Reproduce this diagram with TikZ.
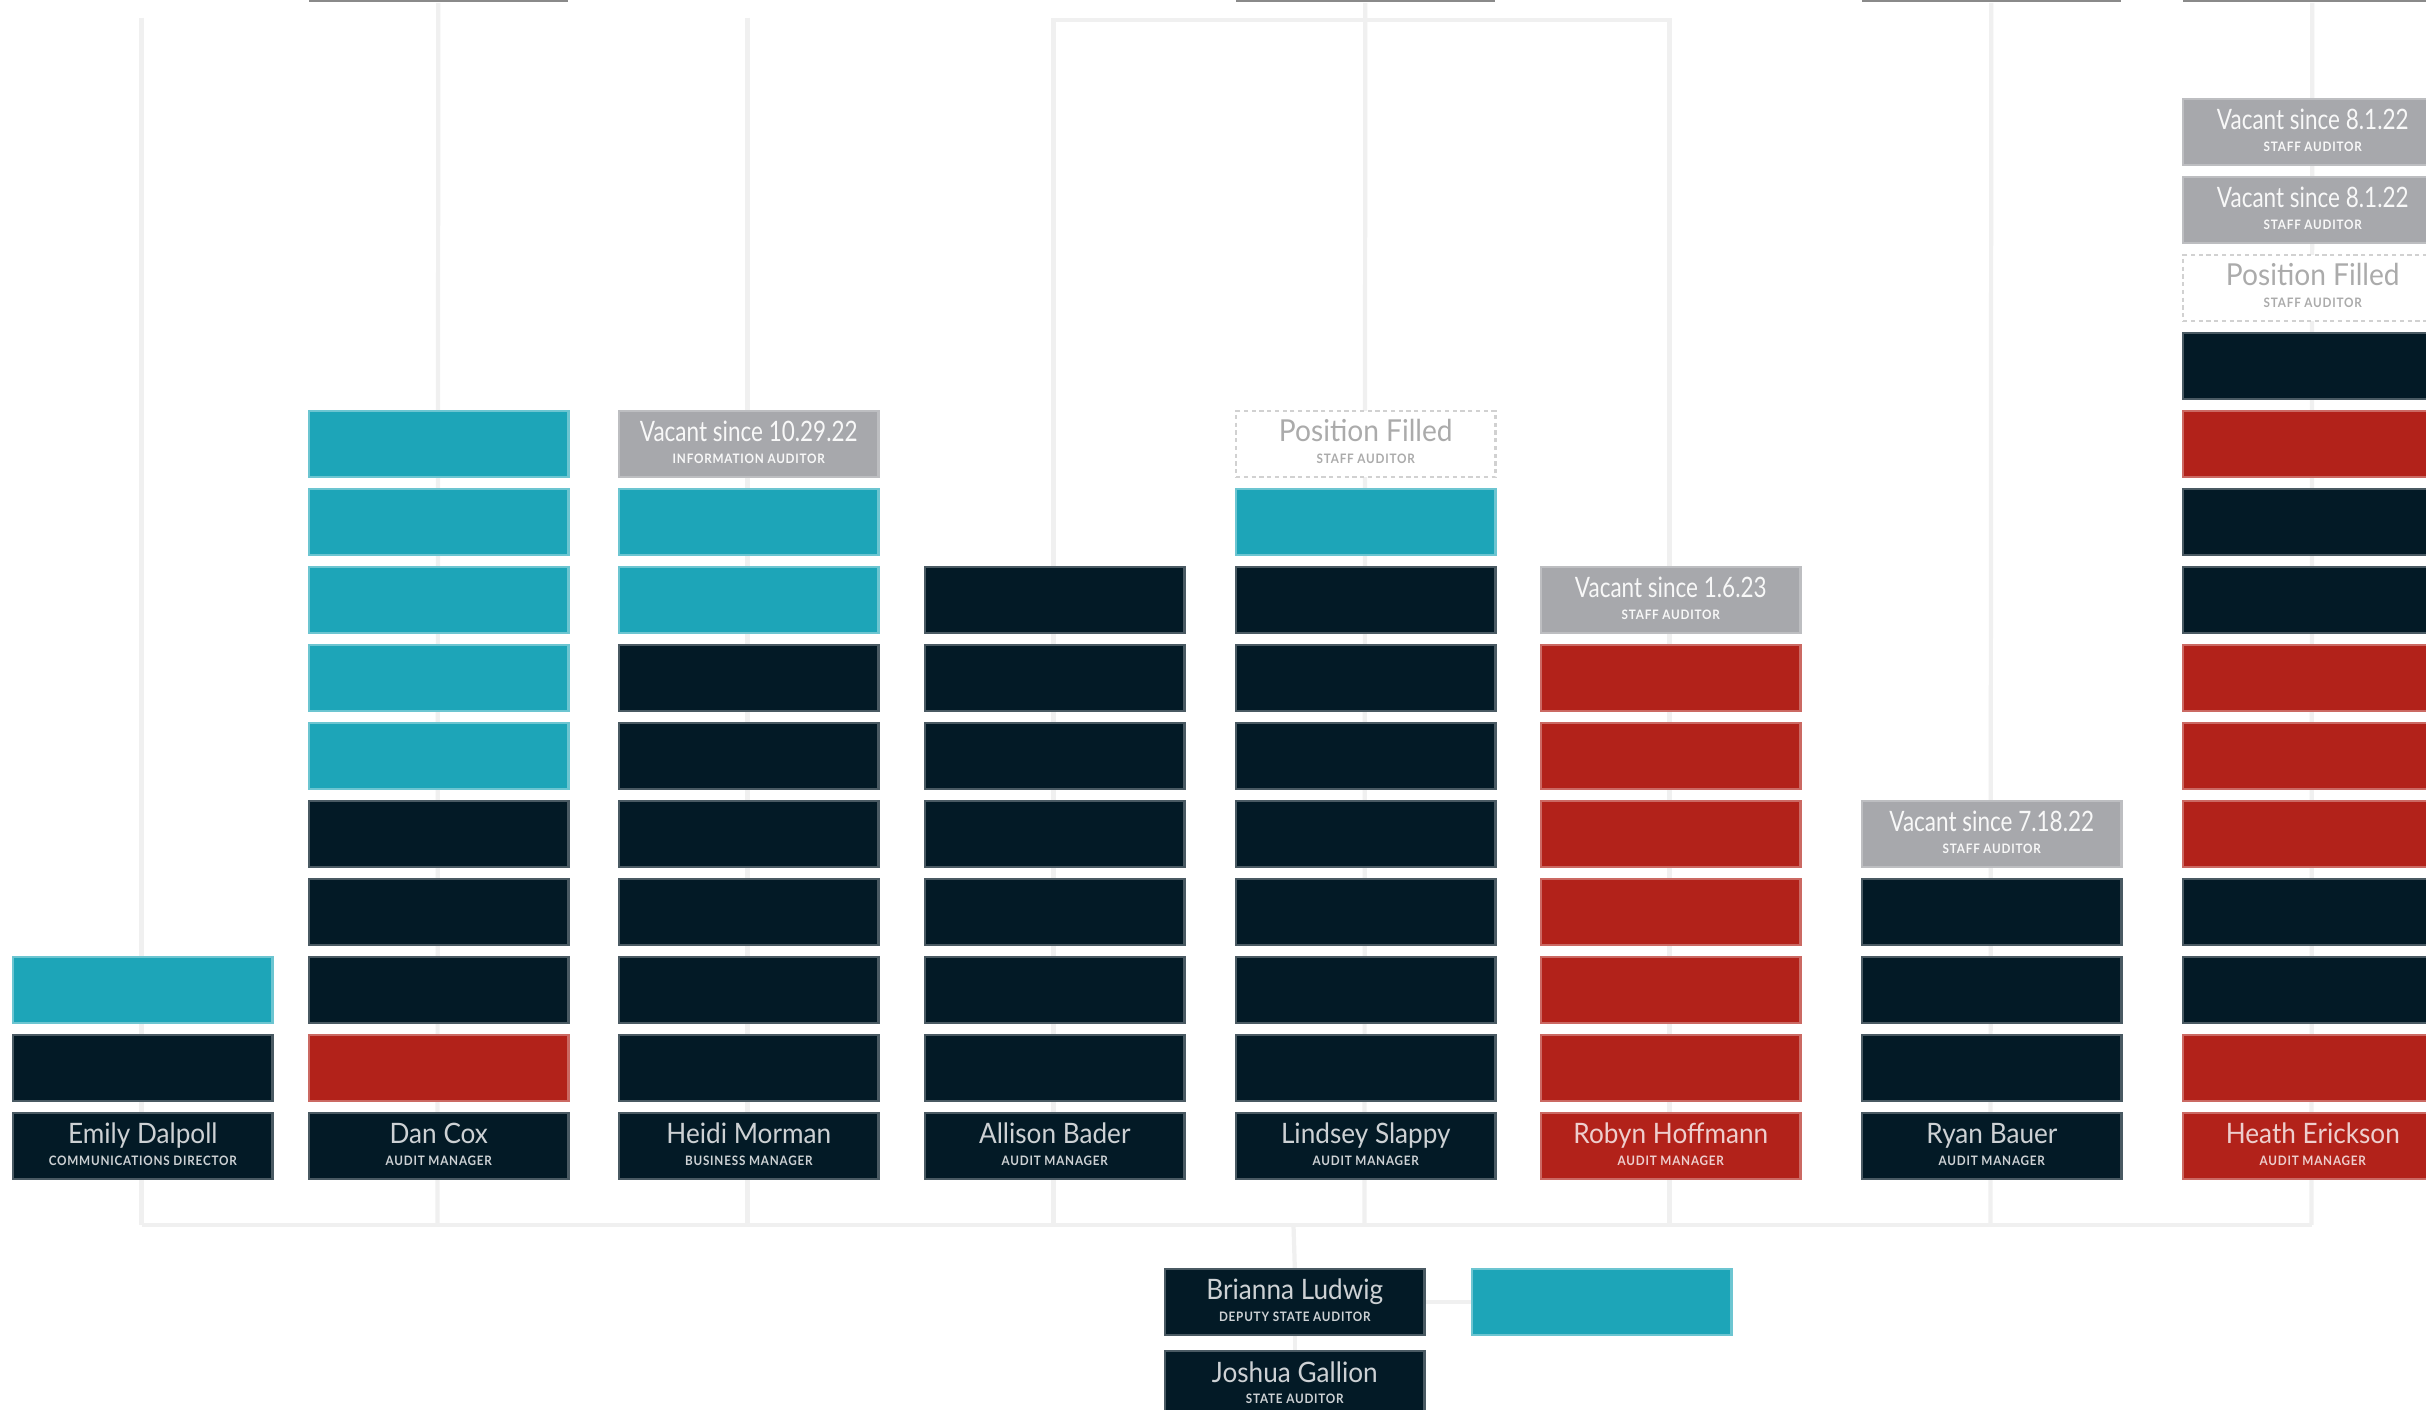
\documentclass[tikz,border=0pt]{standalone}
\usepackage{fontspec}
\newfontfamily\nmfont{Lato}[FakeStretch=0.93]
\newfontfamily\vcfont{Lato}[FakeStretch=0.8]
\newfontfamily\sbfont{Lato}[FakeStretch=0.9,LetterSpace=6]
\definecolor{navy}{HTML}{031A26}
\definecolor{cteal}{HTML}{1DA5B8}
\definecolor{cred}{HTML}{B2221A}
\definecolor{cgray}{HTML}{A7A8AC}
\definecolor{cline}{HTML}{F0F0F0}
\definecolor{topgray}{HTML}{8A8A8A}
\pgfdeclarelayer{back}
\pgfdeclarelayer{bg}
\pgfsetlayers{back,bg,main}
\tikzset{
  cellbase/.style={rectangle, anchor=north west, minimum width=2.59cm, minimum height=0.66cm, inner sep=0pt, line width=0.7pt},
  dk/.style={cellbase, fill=navy, draw=navy!72!white},
  tl/.style={cellbase, fill=cteal, draw=cteal!65!white},
  rd/.style={cellbase, fill=cred, draw=cred!68!white},
  vc/.style={cellbase, fill=cgray, draw=cgray!75!white},
  pf/.style={cellbase, fill=white, draw=black!18, dashed, dash pattern=on 1.2pt off 1pt},
  topbar/.style={rectangle, anchor=south west, minimum width=2.59cm, minimum height=0.66cm, inner sep=0pt, fill=topgray},
  conn/.style={draw=cline, line width=1.2pt},
  maintxt/.style={anchor=base, inner sep=0pt, font=\nmfont\fontsize{8}{8}\selectfont},
  vctxt/.style={anchor=base, inner sep=0pt, font=\vcfont\fontsize{8}{8}\selectfont},
  pftxt/.style={anchor=base, inner sep=0pt, font=\nmfont\fontsize{8.6}{8.6}\selectfont},
  subtxt/.style={anchor=base, inner sep=0pt, font=\sbfont\bfseries\fontsize{3.7}{3.7}\selectfont},
}
\newcommand\cell[4]{%
  \pgfmathsetmacro\celly{1112-78*#3}%
  \node[#4] (#1) at (#2,\celly) {};}
\newcommand\txt[5][maintxt]{%
  \node[#1, text=#5] (#2m) at ([yshift=-9.1pt]#2.north) {#3};
  \node[subtxt, text=#5] (#2s) at ([yshift=-15.1pt]#2.north) {#4};}
\begin{document}
\begin{tikzpicture}[x=0.01cm, y=-0.01cm]
\useasboundingbox (0,0) rectangle (2426,1410);
\clip (0,0) rectangle (2426,1410);
\begin{pgfonlayer}{back}
\fill[white] (0,0) rectangle (2426,1410);
\end{pgfonlayer}

% cut-off boxes at the top
\node[topbar] (u2) at (308,3) {};
\node[topbar] (u5) at (1235,3) {};
\node[topbar] (u7) at (1861,3) {};
\node[topbar] (u8) at (2182,3) {};

% column 1
\cell{c1r0}{12}{0}{dk} \cell{c1r1}{12}{1}{dk} \cell{c1r2}{12}{2}{tl}
% column 2
\cell{c2r0}{308}{0}{dk} \cell{c2r1}{308}{1}{rd}
\foreach \r in {2,3,4}{\cell{c2r\r}{308}{\r}{dk}}
\foreach \r in {5,...,9}{\cell{c2r\r}{308}{\r}{tl}}
% column 3
\cell{c3r0}{618}{0}{dk}
\foreach \r in {1,...,6}{\cell{c3r\r}{618}{\r}{dk}}
\cell{c3r7}{618}{7}{tl} \cell{c3r8}{618}{8}{tl} \cell{c3r9}{618}{9}{vc}
% column 4
\cell{c4r0}{924}{0}{dk}
\foreach \r in {1,...,7}{\cell{c4r\r}{924}{\r}{dk}}
% column 5
\cell{c5r0}{1235}{0}{dk}
\foreach \r in {1,...,7}{\cell{c5r\r}{1235}{\r}{dk}}
\cell{c5r8}{1235}{8}{tl} \cell{c5r9}{1235}{9}{pf}
% column 6
\cell{c6r0}{1540}{0}{rd}
\foreach \r in {1,...,6}{\cell{c6r\r}{1540}{\r}{rd}}
\cell{c6r7}{1540}{7}{vc}
% column 7
\cell{c7r0}{1861}{0}{dk}
\foreach \r in {1,2,3}{\cell{c7r\r}{1861}{\r}{dk}}
\cell{c7r4}{1861}{4}{vc}
% column 8
\cell{c8r0}{2182}{0}{rd}
\foreach \r/\s in {1/rd,2/dk,3/dk,4/rd,5/rd,6/rd,7/dk,8/dk,9/rd,10/dk,11/pf,12/vc,13/vc}{\cell{c8r\r}{2182}{\r}{\s}}

% bottom boxes
\node[dk] (bri) at (1164,1268) {};
\node[tl] (tbx) at (1471,1268) {};
\node[dk] (jos) at (1164,1350) {};

% texts
\txt{c1r0}{Emily Dalpoll}{COMMUNICATIONS DIRECTOR}{white!80!navy}
\txt{c2r0}{Dan Cox}{AUDIT MANAGER}{white!80!navy}
\txt{c3r0}{Heidi Morman}{BUSINESS MANAGER}{white!80!navy}
\txt{c4r0}{Allison Bader}{AUDIT MANAGER}{white!80!navy}
\txt{c5r0}{Lindsey Slappy}{AUDIT MANAGER}{white!80!navy}
\txt{c6r0}{Robyn Hoffmann}{AUDIT MANAGER}{white!78!cred}
\txt{c7r0}{Ryan Bauer}{AUDIT MANAGER}{white!80!navy}
\txt{c8r0}{Heath Erickson}{AUDIT MANAGER}{white!78!cred}
\txt[vctxt]{c3r9}{Vacant since 10.29.22}{INFORMATION AUDITOR}{white!92!cgray}
\txt[pftxt]{c5r9}{Position Filled}{STAFF AUDITOR}{black!33}
\txt[vctxt]{c6r7}{Vacant since 1.6.23}{STAFF AUDITOR}{white!92!cgray}
\txt[vctxt]{c7r4}{Vacant since 7.18.22}{STAFF AUDITOR}{white!92!cgray}
\txt[pftxt]{c8r11}{Position Filled}{STAFF AUDITOR}{black!33}
\txt[vctxt]{c8r12}{Vacant since 8.1.22}{STAFF AUDITOR}{white!92!cgray}
\txt[vctxt]{c8r13}{Vacant since 8.1.22}{STAFF AUDITOR}{white!92!cgray}
\txt{bri}{Brianna Ludwig}{DEPUTY STATE AUDITOR}{white!80!navy}
\txt{jos}{Joshua Gallion}{STATE AUDITOR}{white!80!navy}

% connectors behind the boxes
\coordinate (t1) at (141.5,18);
\coordinate (t3) at (747.5,18);
\coordinate (t4) at (1053.5,20);
\coordinate (t6) at (1669.5,20);
\foreach \i/\x in {1/141.5,2/437.5,3/747.5,4/1053.5,5/1364.5,6/1669.5,7/1990.5,8/2311.5}{\coordinate (b\i) at (\x,1225);}
\coordinate (bj) at (1293.5,1225);
\begin{pgfonlayer}{bg}
\draw[conn] (t1) -- (b1);
\draw[conn] (u2.south) -- (b2);
\draw[conn] (t3) -- (b3);
\draw[conn] (b4) -- (t4) -- (t6) -- (b6);
\draw[conn] (u5.south) -- (b5);
\draw[conn] (u7.south) -- (b7);
\draw[conn] (u8.south) -- (b8);
\draw[conn] (b1) -- (b8);
\draw[conn] (bj) -- (bri.north);
\draw[conn] (bri.south) -- (jos.north);
\draw[conn] (bri.east) -- (tbx.west);
\end{pgfonlayer}
\end{tikzpicture}
\end{document}
